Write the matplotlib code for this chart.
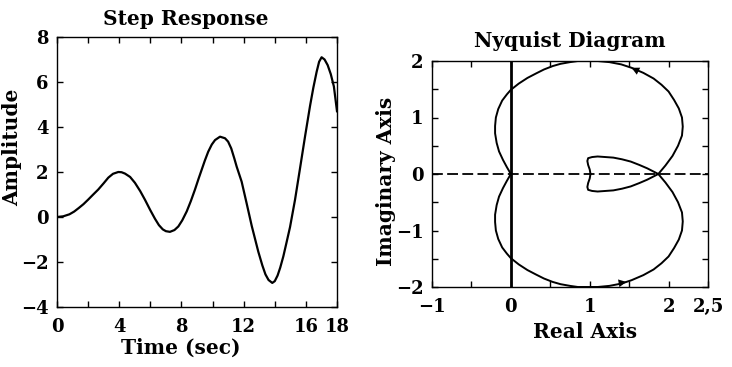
import matplotlib
matplotlib.use("Agg")
import matplotlib.pyplot as plt
import numpy as np

# ---- Step response data ----
step_t = [0, 0.4, 0.8, 1.1, 1.4, 1.7, 2.0, 2.3, 2.65, 3.0, 3.3, 3.6, 3.94, 4.15, 4.37,
          4.7, 5.01, 5.35, 5.66, 6.0, 6.3, 6.55, 6.8, 7.0, 7.26, 7.55, 7.8, 8.05, 8.34,
          8.6, 8.87, 9.1, 9.3, 9.5, 9.72, 9.95, 10.16, 10.48, 10.8, 11.0, 11.2, 11.4,
          11.55, 11.87, 12.19, 12.52, 12.94, 13.2, 13.4, 13.6, 13.84, 14.0, 14.18,
          14.35, 14.55, 14.75, 14.98, 15.3, 15.62, 15.95, 16.27, 16.48, 16.69, 16.85,
          17.01, 17.2, 17.4, 17.6, 17.8, 18.0]
step_y = [0, 0.03, 0.12, 0.24, 0.40, 0.57, 0.77, 0.98, 1.22, 1.50, 1.75, 1.92, 2.00, 1.99, 1.93,
          1.78, 1.52, 1.15, 0.76, 0.30, -0.08, -0.36, -0.55, -0.63, -0.66, -0.58, -0.42, -0.15, 0.25,
          0.70, 1.22, 1.70, 2.10, 2.50, 2.90, 3.22, 3.42, 3.57, 3.50, 3.35, 3.05, 2.60,
          2.24, 1.57, 0.61, -0.40, -1.54, -2.15, -2.55, -2.80, -2.93, -2.85, -2.60,
          -2.25, -1.75, -1.15, -0.45, 0.76, 2.15, 3.60, 4.95, 5.75, 6.45, 6.90,
          7.10, 7.00, 6.75, 6.35, 5.80, 4.70]
step_xticks = [0, 2, 4, 6, 8, 10, 12, 14, 16, 18]
step_xticklabels = ['0', '', '4', '', '8', '', '12', '', '16', '18']
step_yticks = [-4, -2, 0, 2, 4, 6, 8]

# ---- Nyquist data: positive-frequency branch (w = 0 -> inf) ----
nyq_re = [1.01, 1.00, 0.98, 0.97, 0.98, 1.03, 1.10, 1.20, 1.30, 1.41, 1.52, 1.63, 1.73,
          1.80, 1.87, 1.96, 2.05, 2.12, 2.17, 2.18, 2.17, 2.13, 2.07, 2.00, 1.91,
          1.81, 1.68, 1.53, 1.40, 1.25, 1.10, 0.97, 0.85, 0.75, 0.63, 0.53, 0.42,
          0.32, 0.21, 0.10, 0.00, -0.05, -0.11, -0.16, -0.19, -0.20, -0.20, -0.18,
          -0.15, -0.10, -0.05, 0.00]
nyq_im = [0.00, -0.08, -0.16, -0.23, -0.28, -0.30, -0.31, -0.30, -0.29, -0.26, -0.22, -0.16, -0.10,
          -0.05, 0.00, 0.15, 0.32, 0.50, 0.68, 0.84, 1.00, 1.16, 1.31, 1.46, 1.58,
          1.69, 1.79, 1.88, 1.94, 1.98, 2.00, 2.00, 2.00, 1.98, 1.95, 1.91, 1.85,
          1.78, 1.70, 1.60, 1.49, 1.41, 1.30, 1.15, 1.00, 0.85, 0.72, 0.55,
          0.40, 0.25, 0.12, 0.00]
arrow_idx = 27
nyq_xticks = [-1, -0.5, 0, 0.5, 1, 1.5, 2, 2.5]
nyq_xticklabels = ['\u22121', '', '0', '', '1', '', '2', '2,5']
nyq_yticks = [-2, -1.5, -1, -0.5, 0, 0.5, 1, 1.5, 2]
nyq_yticklabels = ['\u22122', '', '\u22121', '', '0', '', '1', '', '2']

plt.rcParams['font.family'] = ['DejaVu Serif']
plt.rcParams['font.weight'] = 'bold'
plt.rcParams['axes.labelweight'] = 'bold'
plt.rcParams['axes.titleweight'] = 'bold'
plt.rcParams['axes.unicode_minus'] = True

W, H = 732, 367
fig = plt.figure(figsize=(W / 100, H / 100), dpi=100)

def px_axes(x0, y0, x1, y1):
    return fig.add_axes([x0 / W, 1 - y1 / H, (x1 - x0) / W, (y1 - y0) / H])

def style(ax):
    ax.tick_params(direction='in', length=4, width=1, top=True, right=True,
                   labelsize=13, colors='black')
    for s in ax.spines.values():
        s.set_linewidth(1.0)
        s.set_color('black')

# ---- Left: step response ----
ax1 = px_axes(57, 37, 337, 307)
ax1.plot(step_t, step_y, color='black', lw=1.6)
ax1.set_xlim(0, 18)
ax1.set_ylim(-4, 8)
ax1.set_xticks(step_xticks)
ax1.set_xticklabels(step_xticklabels)
ax1.set_yticks(step_yticks)
ax1.set_yticklabels([('\u2212%d' % -v) if v < 0 else '%d' % v for v in step_yticks])
style(ax1)
ax1.tick_params(axis='x', pad=8)
ax1.tick_params(axis='y', pad=6)
ax1.set_title('Step Response', fontsize=14.5, x=0.46, pad=8.5)
ax1.set_xlabel('Time (sec)', fontsize=14.5)
ax1.set_ylabel('Amplitude', fontsize=14.5)
ax1.xaxis.set_label_coords(0.443, -0.115)
ax1.yaxis.set_label_coords(-0.125, 0.593)

# ---- Right: Nyquist diagram ----
ax2 = px_axes(432, 61, 708, 287)
re = np.array(nyq_re)
im = np.array(nyq_im)
ax2.axhline(0, color='black', lw=1.3, dashes=(6, 2.4))
ax2.axvline(0, color='black', lw=2.0)
ax2.plot(re, im, color='black', lw=1.4)
ax2.plot(re[::-1], -im[::-1], color='black', lw=1.4)
# arrows: positive branch (moving left on top), negative branch (moving right on bottom)
ax2.annotate('', xy=(re[arrow_idx], im[arrow_idx]),
             xytext=(re[arrow_idx - 2], im[arrow_idx - 2]),
             arrowprops=dict(arrowstyle='-|>', color='black', lw=0,
                             mutation_scale=14, shrinkA=0, shrinkB=0))
tip_x = (re[arrow_idx] + re[arrow_idx + 1]) / 2
tip_y = -(im[arrow_idx] + im[arrow_idx + 1]) / 2
ax2.annotate('', xy=(tip_x, tip_y),
             xytext=(re[arrow_idx + 3], -im[arrow_idx + 3]),
             arrowprops=dict(arrowstyle='-|>', color='black', lw=0,
                             mutation_scale=14, shrinkA=0, shrinkB=0))
ax2.set_xlim(-1, 2.5)
ax2.set_ylim(-2, 2)
ax2.set_xticks(nyq_xticks)
ax2.set_xticklabels(nyq_xticklabels)
ax2.set_yticks(nyq_yticks)
ax2.set_yticklabels(nyq_yticklabels)
style(ax2)
ax2.tick_params(axis='x', pad=8)
ax2.tick_params(axis='y', pad=6)
ax2.set_title('Nyquist Diagram', fontsize=14.5, pad=10)
ax2.set_xlabel('Real Axis', fontsize=14.5)
ax2.set_ylabel('Imaginary Axis', fontsize=14.5)
ax2.xaxis.set_label_coords(0.554, -0.155)
ax2.yaxis.set_label_coords(-0.13, 0.469)

fig.savefig('out.png', dpi=100)
